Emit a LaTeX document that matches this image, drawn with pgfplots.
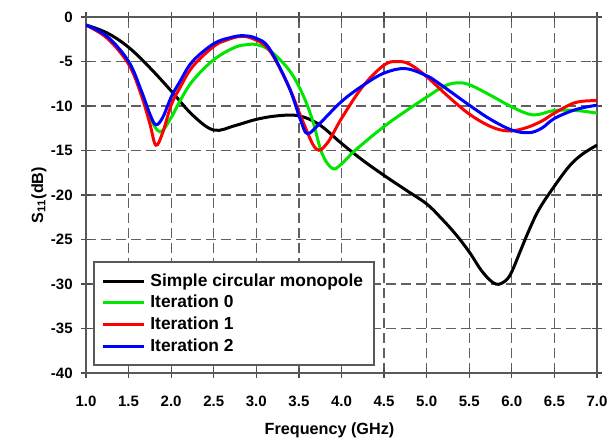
\documentclass[border=0pt]{standalone}
\usepackage{fontspec}
\setmainfont{Liberation Sans}
\usepackage{pgfplots}
\pgfplotsset{compat=1.18}
\definecolor{cgreen}{RGB}{0,230,0}
\definecolor{cred}{RGB}{255,0,0}
\definecolor{cblue}{RGB}{0,0,255}
\begin{document}
\begin{tikzpicture}
\begin{axis}[
  at={(0,0)}, anchor=south west,
  scale only axis, width=255.5pt, height=178pt,
  xmin=1, xmax=7, ymin=-40, ymax=0,
  xtick={1,1.5,...,7},
  xticklabels={1.0,1.5,2.0,2.5,3.0,3.5,4.0,4.5,5.0,5.5,6.0,6.5,7.0},
  ytick={-40,-35,...,0},
  yticklabels={-40,-35,-30,-25,-20,-15,-10,-5,0},
  tick align=center, major tick length=5pt,
  every tick/.style={gray!60!black, line width=0.6pt},
  axis line style={gray!70!black, line width=0.8pt},
  grid=major,
  major grid style={gray!75!black, line width=0.65pt, dash pattern=on 5pt off 2.5pt},
  ticklabel style={font=\fontsize{7.5}{9}\selectfont\bfseries},
  xticklabel style={inner sep=0pt, anchor=north, yshift=-9pt},
  yticklabel style={inner sep=0pt, anchor=east, xshift=-4pt},
  xlabel={Frequency (GHz)},
  ylabel={S\textsubscript{11}(dB)},
  label style={font=\fontsize{8.1}{10}\selectfont\bfseries},
  xlabel style={at={(axis description cs:0.5,0)}, anchor=center, yshift=-28.5pt, xshift=-6pt},
  ylabel style={at={(axis description cs:-0.092,0.5)}, anchor=center},
  legend cell align=left,
  legend style={at={(rel axis cs:0,0)}, anchor=south west, xshift=3.5pt, yshift=3.5pt,
    draw=gray!70!black, line width=0.8pt, inner xsep=3.8pt, inner ysep=4.5pt,
    font=\fontsize{8.7}{10}\selectfont\bfseries,
    nodes={inner sep=1pt, text height=6.5pt, text depth=1.5pt},
    row sep=0.85pt, column sep=1.5pt},
  legend image code/.code={\draw[#1, line width=1.5pt] (0pt,0pt) -- (20.5pt,0pt);},
  every axis plot/.append style={line width=1.5pt, smooth, tension=0.6},
]
\addplot[black] coordinates {
(1.0,-0.9) (1.25,-1.8) (1.5,-3.4) (1.75,-5.7) (2.0,-8.3) (2.25,-11.0) (2.5,-12.7)
(2.75,-12.2) (3.0,-11.5) (3.25,-11.1) (3.5,-11.1) (3.74,-12.1) (4.0,-14.2) (4.25,-16.1)
(4.5,-17.8) (4.75,-19.4) (5.0,-21.0) (5.17,-22.6) (5.34,-24.4) (5.5,-26.4) (5.66,-28.7)
(5.81,-30.0) (5.93,-29.6) (6.0,-28.6) (6.1,-26.3) (6.2,-24.0) (6.32,-21.6) (6.5,-19.0)
(6.68,-16.7) (6.83,-15.4) (7.0,-14.4)};
\addlegendentry{Simple circular monopole\hspace*{0.5pt}}
\addplot[cgreen] coordinates {
(1.0,-0.9) (1.25,-2.3) (1.5,-5.0) (1.65,-8.5) (1.75,-11.2) (1.87,-12.9) (2.0,-11.3)
(2.1,-9.5) (2.25,-7.2) (2.5,-4.8) (2.75,-3.4) (2.9,-3.1) (3.0,-3.1) (3.15,-3.7)
(3.38,-5.9) (3.54,-8.6) (3.66,-11.6) (3.77,-15.3) (3.89,-17.0) (3.99,-16.6) (4.17,-14.9)
(4.5,-12.3) (4.75,-10.6) (5.0,-9.0) (5.2,-7.8) (5.35,-7.4) (5.5,-7.6)
(5.75,-8.8) (6.0,-10.1) (6.25,-11.0) (6.5,-10.5) (6.75,-10.5) (7.0,-10.8)};
\addlegendentry{Iteration 0}
\addplot[cred] coordinates {
(1.0,-0.9) (1.25,-2.4) (1.5,-5.3) (1.65,-8.8) (1.75,-12.0) (1.82,-14.4) (1.9,-13.0)
(2.0,-9.9) (2.1,-8.0) (2.25,-5.6) (2.5,-3.3) (2.65,-2.6) (2.8,-2.2) (2.95,-2.4)
(3.15,-3.7) (3.38,-7.8) (3.54,-11.6) (3.7,-14.8) (3.83,-14.2) (4.0,-11.4)
(4.25,-7.8) (4.5,-5.4) (4.65,-5.0) (4.8,-5.3)
(5.0,-6.7) (5.25,-8.9) (5.5,-10.9) (5.75,-12.3) (5.95,-12.8) (6.15,-12.5) (6.35,-11.7)
(6.5,-10.8) (6.75,-9.6) (7.0,-9.4)};
\addlegendentry{Iteration 1}
\addplot[cblue] coordinates {
(1.0,-0.9) (1.25,-2.2) (1.5,-5.0) (1.65,-8.3) (1.75,-10.9) (1.82,-12.1) (1.9,-11.3)
(2.0,-9.0) (2.1,-7.3) (2.25,-5.0) (2.5,-3.0) (2.7,-2.3) (2.85,-2.1) (3.0,-2.4)
(3.15,-3.5) (3.38,-7.8) (3.52,-11.6) (3.6,-13.1) (3.74,-12.0) (4.0,-9.5) (4.25,-7.7)
(4.5,-6.3) (4.75,-5.8) (5.0,-6.6) (5.15,-7.5)
(5.5,-9.9) (5.75,-11.5) (6.0,-12.7) (6.2,-13.0) (6.35,-12.5) (6.5,-11.4) (6.75,-10.4)
(7.0,-9.9)};
\addlegendentry{Iteration 2}
\end{axis}
\pgfresetboundingbox
\useasboundingbox (-43pt,-34pt) rectangle (261.5pt,186.5pt);
\end{tikzpicture}
\end{document}
